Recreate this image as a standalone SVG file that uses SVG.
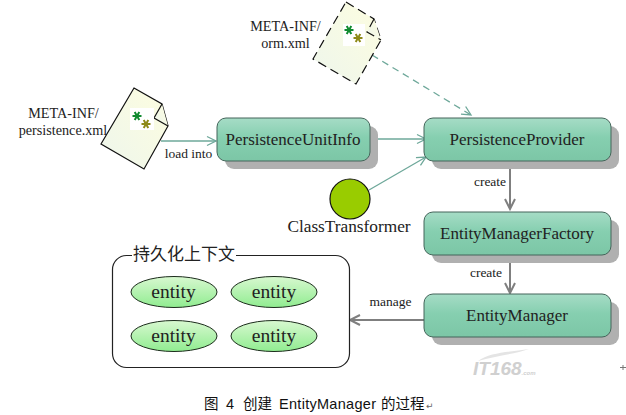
<svg xmlns="http://www.w3.org/2000/svg" width="626" height="415" viewBox="0 0 626 415">
<style>
text{font-family:"Liberation Serif","Noto Sans CJK SC",serif;fill:#222}
.box{fill:url(#boxg);stroke:#44655a;stroke-width:1}
.sh{fill:#b0b0b0}
.nm{font-size:17px;text-anchor:middle}
.lb{font-size:14.2px;text-anchor:middle}
.sm{font-size:13.5px;text-anchor:middle}
.en{font-size:19.500px;text-anchor:middle}
.ell{fill:url(#eg);stroke:#1c2c1c;stroke-width:1}
.doc{fill:url(#dg);stroke:#111;stroke-width:1.2;stroke-linejoin:miter}
.teal{fill:none;stroke:#6ea89a;stroke-width:1.3}
.gray{fill:none;stroke:#7f7f7f;stroke-width:2}
.s1{fill:none;stroke:#108a30;stroke-width:2}
.s2{fill:none;stroke:#8e8a18;stroke-width:2}
</style>
<defs>
<linearGradient id="boxg" x1="0" y1="0" x2="0" y2="1"><stop offset="0" stop-color="#a6dcc6"/><stop offset=".45" stop-color="#86cfb0"/><stop offset="1" stop-color="#7cc6a6"/></linearGradient>
<linearGradient id="eg" x1="0" y1="0" x2="0" y2="1"><stop offset="0" stop-color="#d8f8d0"/><stop offset="1" stop-color="#90ec90"/></linearGradient>
<linearGradient id="dg" x1="1" y1="0" x2="0" y2="1"><stop offset="0" stop-color="#fdfde0"/><stop offset="1" stop-color="#eef6ec"/></linearGradient>
<path id="star" d="M-4.500 0H4.500M-2.300 -3.900L2.300 3.900M-2.300 3.900L2.300 -3.900"/>
<marker id="at" markerWidth="12" markerHeight="12" refX="10" refY="6" orient="auto" markerUnits="userSpaceOnUse"><path d="M1 1.500L10 6L1 10.500" fill="none" stroke="#6ea89a" stroke-width="1.3"/></marker>
<marker id="ag" markerWidth="14" markerHeight="14" refX="11" refY="7" orient="auto" markerUnits="userSpaceOnUse"><path d="M1 2L11 7L1 12" fill="none" stroke="#7f7f7f" stroke-width="2"/></marker>
</defs>
<rect width="626" height="415" fill="#fff"/>
<g id="connectors">
<path class="teal" d="M161 141H216" marker-end="url(#at)"/>
<path class="teal" d="M370 139H426" marker-end="url(#at)"/>
<path class="teal" d="M369 190L426 157" marker-end="url(#at)"/>
<path class="teal" d="M372 55L471 115" stroke-dasharray="7 5" marker-end="url(#at)"/>
<path class="gray" d="M510 161V209" marker-end="url(#ag)"/>
<path class="gray" d="M510 255V293" marker-end="url(#ag)"/>
<path class="gray" d="M424 320H350" marker-end="url(#ag)"/>
<text class="sm" x="188.500" y="158">load into</text>
<text class="sm" x="490" y="186">create</text>
<text class="sm" x="486" y="277">create</text>
<text class="sm" x="390.500" y="306">manage</text>
</g>
<g id="persistence-xml">
<path class="doc" d="M134 88L162 104L168 126L144 169L101 144Z"/>
<path class="doc" d="M162 104L154 118L168 126"/>
<rect x="130" y="108" width="24" height="22" fill="#fff"/>
<use href="#star" x="137" y="116" class="s1"/>
<use href="#star" x="146" y="124" class="s2"/>
<text class="lb" x="63.500" y="118">META-INF/</text>
<text class="lb" x="63" y="135">persistence.xml</text>
</g>
<g id="orm-xml">
<path class="doc" stroke-dasharray="9 5" d="M346 2L374 19L381 40L356 84L313 59Z"/>
<path class="doc" stroke-dasharray="9 5" d="M374 19L367 32L381 40"/>
<rect x="343" y="24" width="22" height="22" fill="#fff"/>
<use href="#star" x="349" y="30" class="s1"/>
<use href="#star" x="358" y="38" class="s2"/>
<text class="lb" x="285.500" y="31">META-INF/</text>
<text class="lb" x="285.500" y="48">orm.xml</text>
</g>
<g id="unitinfo">
<rect class="sh" x="225" y="126" width="153" height="43" rx="9"/>
<rect class="box" x="217" y="118" width="153" height="43" rx="9"/>
<text class="nm" x="293" y="145">PersistenceUnitInfo</text>
</g>
<g id="provider">
<rect class="sh" x="432" y="126" width="187" height="43" rx="9"/>
<rect class="box" x="424" y="118" width="187" height="43" rx="9"/>
<text class="nm" x="517" y="145">PersistenceProvider</text>
</g>
<g id="factory">
<rect class="sh" x="432" y="220" width="187" height="43" rx="9"/>
<rect class="box" x="424" y="212" width="187" height="43" rx="9"/>
<text class="nm" x="517" y="239">EntityManagerFactory</text>
</g>
<g id="manager">
<rect class="sh" x="432" y="302" width="187" height="43" rx="9"/>
<rect class="box" x="424" y="294" width="187" height="43" rx="9"/>
<text class="nm" x="517" y="321">EntityManager</text>
</g>
<g id="transformer">
<circle cx="350" cy="199" r="20" fill="#9c0" stroke="#111" stroke-width="1.2"/>
<text class="nm" x="349" y="232" style="font-size:17.300px">ClassTransformer</text>
</g>
<g id="context">
<rect x="112.500" y="255.500" width="237" height="112" rx="14" fill="#fff" stroke="#222" stroke-width="1.2"/>
<rect x="132" y="245" width="104" height="20" fill="#fff"/>
<text x="184" y="260" font-size="17" text-anchor="middle">持久化上下文</text>
<g id="e1"><ellipse class="ell" cx="174" cy="292" rx="43" ry="15.500"/><text class="en" x="173.500" y="298">entity</text></g>
<g id="e2"><ellipse class="ell" cx="274" cy="292" rx="43" ry="15.500"/><text class="en" x="274" y="298">entity</text></g>
<g id="e3"><ellipse class="ell" cx="174" cy="336" rx="43" ry="15.500"/><text class="en" x="173.500" y="342">entity</text></g>
<g id="e4"><ellipse class="ell" cx="274" cy="336" rx="43" ry="15.500"/><text class="en" x="274" y="342">entity</text></g>
</g>
<g id="watermark">
<path d="M478 361C490 352 510 352 529 349C515 354 495 356 478 361Z" fill="#e4e4e4"/>
<text x="473" y="375" font-size="19" font-style="italic" font-weight="bold" style="fill:#d0d0d0;font-family:'Liberation Sans',sans-serif">IT168<tspan font-size="6">.com</tspan></text>
<path d="M620 367.500h6M623 365v5" stroke="#777" stroke-width="1" fill="none"/>
</g>
<g id="caption" style="font-family:'Liberation Sans','Noto Sans CJK SC',sans-serif">
<text x="204" y="409" font-size="14.500" style="font-family:inherit;fill:#111">图</text>
<text x="226" y="409" font-size="14.500" style="font-family:inherit;fill:#111">4</text>
<text x="243" y="409" font-size="14.500" style="font-family:inherit;fill:#111">创建</text>
<text x="279" y="409" font-size="14.500" style="font-family:inherit;fill:#111" textLength="97">EntityManager</text>
<text x="381" y="409" font-size="14.500" style="font-family:inherit;fill:#111">的过程</text>
<text x="426" y="409" font-size="9" style="font-family:'DejaVu Sans',sans-serif;fill:#666">↵</text>
</g>
</svg>
